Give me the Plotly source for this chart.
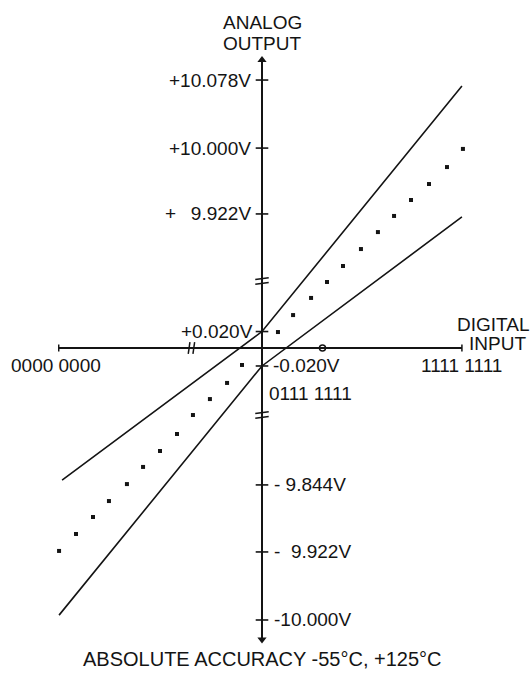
import plotly.graph_objects as go

# ---------------- data (drawing units: 1 unit = one dot step) ----------------
dots_right_x = [0.95, 1.85, 2.92, 3.87, 4.82, 5.89, 6.90, 7.86, 8.87, 9.94, 11.01, 11.96]
dots_right_y = [0.95, 1.96, 2.98, 3.93, 4.88, 5.89, 6.90, 7.86, 8.81, 9.76, 10.77, 11.85]
dots_left_x = [-1.19, -2.08, -3.10, -4.11, -5.06, -6.07, -7.08, -8.04, -9.11, -10.06, -11.07, -12.08]
dots_left_y = [-1.01, -2.08, -3.04, -3.99, -5.12, -6.13, -7.08, -8.10, -9.11, -10.06, -11.07, -12.08]

upper_limit_x = [-11.9, 0.0, 11.9]
upper_limit_y = [-7.86, 0.98, 15.6]
lower_limit_x = [-12.08, 0.0, 11.9]
lower_limit_y = [-15.9, -1.07, 7.8]

y_tick_values = [15.95, 11.9, 7.98, 0.98, -1.07, -8.15, -12.14, -16.19]
y_tick_labels = ["+10.078V", "+10.000V", "+\u2002\u00a09.922V", "+0.020V",
                 "-0.020V", "-\u00a09.844V", "-\u00a0\u00a09.922V", "-10.000V"]

x_code_values = [-12.26, 0.36, 11.85]
x_code_labels = ["0000 0000", "0111 1111", "1111 1111"]

h_axis_extent = [-12.1, 11.9]
v_axis_extent = [-17.6, 17.4]
v_breaks = [3.99, -3.99]
h_breaks = [-4.2]
h_marker = [3.6]

# ---------------- figure ----------------
INK = "#141414"
FONT = "Liberation Sans, Arial, sans-serif"
fig = go.Figure()

# axes
fig.add_trace(go.Scatter(x=h_axis_extent, y=[0, 0], mode="lines",
                         line=dict(color=INK, width=2), hoverinfo="skip"))
fig.add_trace(go.Scatter(x=[0, 0], y=[v_axis_extent[0] + 0.3, v_axis_extent[1] - 0.3], mode="lines",
                         line=dict(color=INK, width=2), hoverinfo="skip"))
# arrow heads
fig.add_trace(go.Scatter(x=[0, 0], y=[v_axis_extent[1] - 0.25, v_axis_extent[0] + 0.25], mode="markers",
                         marker=dict(symbol=["triangle-up", "triangle-down"], size=8, color=INK),
                         hoverinfo="skip"))
# axis end caps
fig.add_trace(go.Scatter(x=h_axis_extent, y=[0, 0], mode="markers",
                         marker=dict(symbol="line-ns", size=5, color=INK, line=dict(color=INK, width=1.5)),
                         hoverinfo="skip"))

# ticks on the vertical axis
fig.add_trace(go.Scatter(x=[0] * len(y_tick_values), y=y_tick_values, mode="markers",
                         marker=dict(symbol="line-ew", size=9, color=INK, line=dict(color=INK, width=1.6)),
                         hoverinfo="skip"))

# break marks
bx, by = [], []
for yb in v_breaks:
    for d in (0.14, -0.14):
        bx += [-0.4, 0.4, None]
        by += [yb + d - 0.05, yb + d + 0.05, None]
for xb in h_breaks:
    for d in (-0.14, 0.14):
        bx += [xb + d - 0.05, xb + d + 0.05, None]
        by += [-0.35, 0.35, None]
fig.add_trace(go.Scatter(x=bx, y=by, mode="lines", line=dict(color=INK, width=1.5),
                         hoverinfo="skip"))
fig.add_trace(go.Scatter(x=h_marker, y=[0], mode="markers",
                         marker=dict(symbol="circle-open", size=6, color=INK, line=dict(color=INK, width=1.5)),
                         hoverinfo="skip"))

# accuracy limit lines
for lx, ly in ((upper_limit_x, upper_limit_y), (lower_limit_x, lower_limit_y)):
    fig.add_trace(go.Scatter(x=lx, y=ly, mode="lines",
                             line=dict(color=INK, width=1.6), hoverinfo="skip"))

# ideal transfer (dotted)
fig.add_trace(go.Scatter(x=dots_left_x[::-1] + dots_right_x, y=dots_left_y[::-1] + dots_right_y,
                         mode="markers", marker=dict(symbol="square", size=4, color=INK),
                         hoverinfo="skip"))

# ---------------- text ----------------
ann = []
def txt(x, y, s, anchor="center", size=19, xref="x", yref="y", yanchor="middle"):
    ann.append(dict(x=x, y=y, xref=xref, yref=yref, text=s, showarrow=False,
                    xanchor=anchor, yanchor=yanchor, borderpad=0,
                    font=dict(family=FONT, size=size, color=INK)))

for v, lab in zip(y_tick_values, y_tick_labels):
    if v > 0:
        txt(-0.6 if v > 2 else -0.45, v, lab, "right")
    else:
        txt(0.6 if v > -2 else 0.65, v, lab, "left")

txt(x_code_values[0], -1.07, x_code_labels[0], "center")
txt(x_code_values[1], -2.68, x_code_labels[1], "left")
txt(x_code_values[2], -1.07, x_code_labels[2], "center")

txt(0, 19.4, "ANALOG")
txt(0, 18.15, "OUTPUT")
txt(1.0, 1.37, "DIGITAL", "right", xref="paper")
txt(527 / 531, 0.24, "INPUT", "right", xref="paper")
txt(0, 0.003, "ABSOLUTE ACCURACY -55°C, +125°C", size=20, yref="paper", yanchor="bottom")

fig.update_layout(
    width=531, height=673, autosize=False,
    margin=dict(l=0, r=0, t=0, b=0),
    paper_bgcolor="white", plot_bgcolor="white",
    showlegend=False, annotations=ann,
    xaxis=dict(range=[-262 / 16.8, 269 / 16.8], visible=False, fixedrange=True),
    yaxis=dict(range=[-325 / 16.8, 348 / 16.8], visible=False, fixedrange=True),
)
fig.write_html("out.html", config={"displayModeBar": False})

# remove the browser's default page margin so the figure fills the window exactly
with open("out.html", "r", encoding="utf-8") as f:
    html = f.read()
html = html.replace("<head>", "<head><style>html,body{margin:0;padding:0;overflow:hidden;}</style>", 1)
with open("out.html", "w", encoding="utf-8") as f:
    f.write(html)
